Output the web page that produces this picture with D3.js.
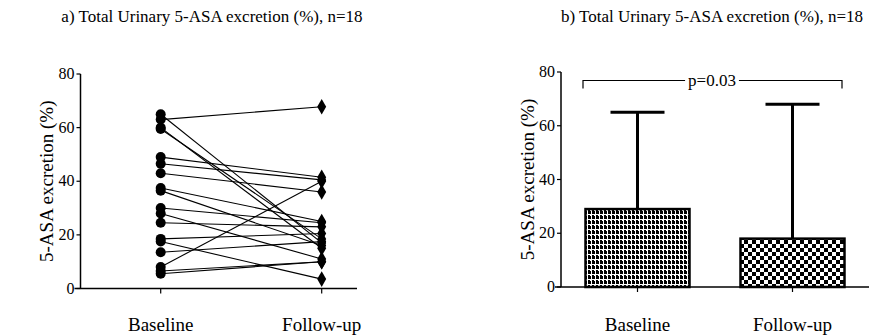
<!DOCTYPE html>
<html>
<head>
<meta charset="utf-8">
<script src="https://cdn.jsdelivr.net/npm/d3@7"></script>
<style>
  body { margin: 0; background: #fff; }
</style>
</head>
<body>
<div id="chart"></div>
<script>
// Data
const categories = ['Baseline', 'Follow-up'];
const baselineValues = [65, 63, 60, 59.5, 49, 46.5, 43, 37.5, 36.5, 30, 28, 24.5, 18.5, 17.5, 13.5, 8, 6.5, 5.5];
const followupValues = [17, 67.8, 15, 18.5, 41.5, 40.5, 36, 25, 16, 24.5, 11, 23, 20.5, 3.5, 17.5, 40, 10, 10];
const barMedians = [29, 18];
const barMax = [65, 68];
const yTicks = [0, 20, 40, 60, 80];
const titles = ['a) Total Urinary 5-ASA excretion (%), n=18', 'b) Total Urinary 5-ASA excretion (%), n=18'];
const yTitle = '5-ASA excretion (%)';
const pLabel = 'p=0.03';

const FONT = 'Liberation Serif, Times New Roman, DejaVu Serif, serif';
const width = 889, height = 336;
const svg = d3.select('#chart').append('svg')
  .attr('width', width)
  .attr('height', height)
  .attr('font-family', FONT)
  .style('display', 'block');

// Fill patterns for the bars
const defs = svg.append('defs');
const pat1 = defs.append('pattern')
  .attr('id', 'grid1').attr('patternUnits', 'userSpaceOnUse')
  .attr('width', 4).attr('height', 5);
pat1.append('rect').attr('width', 4).attr('height', 5).attr('fill', '#fff');
pat1.append('rect').attr('x', 0).attr('y', 0).attr('width', 2).attr('height', 4).attr('fill', '#000');
pat1.append('rect').attr('x', 2).attr('y', 1).attr('width', 1).attr('height', 3).attr('fill', '#000');

const pat2 = defs.append('pattern')
  .attr('id', 'checker').attr('patternUnits', 'userSpaceOnUse')
  .attr('width', 8).attr('height', 8);
pat2.append('rect').attr('width', 8).attr('height', 8).attr('fill', '#fff');
pat2.append('rect').attr('x', 0).attr('y', 0).attr('width', 4).attr('height', 4).attr('fill', '#000');
pat2.append('rect').attr('x', 4).attr('y', 4).attr('width', 4).attr('height', 4).attr('fill', '#000');

// Draws one panel's axes, returns the scales
function drawAxes(g, opts) {
  const y = d3.scaleLinear().domain([0, 80]).range([opts.y0, opts.y80]);
  const x = d3.scalePoint().domain(categories).range(opts.xRange);

  // y axis
  g.append('line')
    .attr('x1', opts.axisX).attr('x2', opts.axisX)
    .attr('y1', y(0)).attr('y2', y(80))
    .attr('stroke', '#000').attr('stroke-width', 1.5);
  g.selectAll('.ytick').data(yTicks).enter().append('line')
    .attr('x1', opts.axisX - 4).attr('x2', opts.axisX)
    .attr('y1', d => y(d)).attr('y2', d => y(d))
    .attr('stroke', '#000').attr('stroke-width', 1.2);
  g.selectAll('.ylab').data(yTicks).enter().append('text')
    .attr('x', opts.axisX - 6).attr('y', d => y(d) + 5)
    .attr('text-anchor', 'end')
    .attr('font-size', 16)
    .text(d => d);

  // x axis
  g.append('line')
    .attr('x1', opts.axisX - 6).attr('x2', opts.xEnd)
    .attr('y1', y(0)).attr('y2', y(0))
    .attr('stroke', '#000').attr('stroke-width', 1.5);
  g.selectAll('.xtick').data(categories).enter().append('line')
    .attr('x1', d => x(d)).attr('x2', d => x(d))
    .attr('y1', y(0)).attr('y2', y(0) + 5)
    .attr('stroke', '#000').attr('stroke-width', 1.2);
  g.selectAll('.xlab').data(categories).enter().append('text')
    .attr('x', d => x(d)).attr('y', 331)
    .attr('text-anchor', 'middle')
    .attr('font-size', 19)
    .text(d => d);

  // y title
  g.append('text')
    .attr('transform', `translate(${opts.titleX},${(y(0) + y(80)) / 2}) rotate(-90)`)
    .attr('text-anchor', 'middle')
    .attr('font-size', 19)
    .text(yTitle);

  // panel title
  g.append('text')
    .attr('x', opts.headX).attr('y', 22)
    .attr('text-anchor', 'middle')
    .attr('font-size', 17)
    .text(opts.title);

  return { x, y };
}

// Panel a: paired lines
const ga = svg.append('g');
const a = drawAxes(ga, {
  y0: 288.5, y80: 74, axisX: 80.5, xEnd: 357,
  xRange: [160.7, 321.7], titleX: 53, headX: 212, title: titles[0]
});
const pairs = baselineValues.map((b, i) => [b, followupValues[i]]);

ga.selectAll('.pair').data(pairs).enter().append('line')
  .attr('x1', a.x(categories[0])).attr('x2', a.x(categories[1]))
  .attr('y1', d => a.y(d[0])).attr('y2', d => a.y(d[1]))
  .attr('stroke', '#000').attr('stroke-width', 1.1);

ga.selectAll('.bpt').data(baselineValues).enter().append('circle')
  .attr('cx', a.x(categories[0])).attr('cy', d => a.y(d))
  .attr('r', 5).attr('fill', '#000');

ga.selectAll('.fpt').data(followupValues).enter().append('path')
  .attr('d', d3.symbol().type(d3.symbolDiamond).size(70))
  .attr('transform', d => `translate(${a.x(categories[1])},${a.y(d)})`)
  .attr('fill', '#000');

// Panel b: bars with whiskers to max
const gb = svg.append('g');
const b = drawAxes(gb, {
  y0: 287, y80: 72, axisX: 561, xEnd: 869,
  xRange: [637.5, 792.5], titleX: 534, headX: 712, title: titles[1]
});
const barW = 104, capW = 54;
const barData = categories.map((c, i) => ({ cat: c, med: barMedians[i], max: barMax[i], fill: i === 0 ? 'url(#grid1)' : 'url(#checker)' }));

gb.selectAll('.whisk').data(barData).enter().append('line')
  .attr('x1', d => b.x(d.cat)).attr('x2', d => b.x(d.cat))
  .attr('y1', d => b.y(d.med)).attr('y2', d => b.y(d.max))
  .attr('stroke', '#000').attr('stroke-width', 3);
gb.selectAll('.cap').data(barData).enter().append('line')
  .attr('x1', d => b.x(d.cat) - capW / 2).attr('x2', d => b.x(d.cat) + capW / 2)
  .attr('y1', d => b.y(d.max)).attr('y2', d => b.y(d.max))
  .attr('stroke', '#000').attr('stroke-width', 3);
gb.selectAll('.bar').data(barData).enter().append('rect')
  .attr('x', d => b.x(d.cat) - barW / 2)
  .attr('y', d => b.y(d.med))
  .attr('width', barW)
  .attr('height', d => b.y(0) - b.y(d.med))
  .attr('fill', d => d.fill)
  .attr('stroke', '#000').attr('stroke-width', 2.5);

// significance bracket
const bx1 = 583, bx2 = 842, by = 80.5;
gb.append('path')
  .attr('d', `M${bx1},${by + 8}V${by}H${bx2}V${by + 8}`)
  .attr('fill', 'none').attr('stroke', '#000').attr('stroke-width', 1.2);
const pText = gb.append('text')
  .attr('x', 712).attr('y', by + 5)
  .attr('text-anchor', 'middle')
  .attr('font-size', 17)
  .text(pLabel);
const bb = pText.node().getBBox();
gb.insert('rect', 'text:last-of-type')
  .attr('x', bb.x - 3).attr('y', by - 3)
  .attr('width', bb.width + 6).attr('height', 6)
  .attr('fill', '#fff');
pText.raise();
</script>
</body>
</html>
